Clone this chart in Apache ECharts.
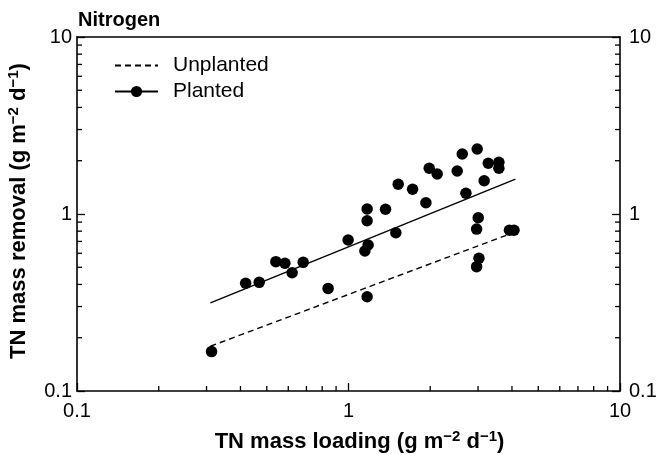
<!DOCTYPE html>
<html>
<head>
<meta charset="utf-8">
<script src="https://cdn.jsdelivr.net/npm/echarts@6/dist/echarts.min.js"></script>
<style>
  html, body { margin: 0; padding: 0; background: #fff; }
  #chart { width: 658px; height: 454px; }
</style>
</head>
<body>
<div id="chart"></div>
<script>
// TN mass loading (x) and TN mass removal (y), g m-2 d-1
const loading = [
  0.313, 0.418, 0.469, 0.540, 0.583, 0.620, 0.681, 0.841, 0.997,
  1.171, 1.171, 1.181, 1.149, 1.171, 1.369, 1.494, 1.524, 1.722,
  1.928, 1.983, 2.122, 2.514, 2.624, 2.707, 2.979, 3.160, 3.272,
  3.580, 3.580, 3.005, 2.964, 3.023, 2.964, 3.915, 4.070
];
const removal = [
  0.167, 0.406, 0.411, 0.538, 0.527, 0.466, 0.533, 0.380, 0.713,
  1.067, 0.916, 0.668, 0.618, 0.341, 1.063, 0.783, 1.472, 1.379,
  1.158, 1.812, 1.683, 1.750, 2.183, 1.309, 2.330, 1.542, 1.934,
  1.959, 1.812, 0.953, 0.822, 0.562, 0.504, 0.810, 0.810
];

// Fitted power-law lines, end points [loading, removal]
const plantedFitX = [0.31, 4.12];
const plantedFitY = [0.315, 1.575];
const unplantedFitX = [0.31, 4.05];
const unplantedFitY = [0.179, 0.785];

// Axis range and log minor tick positions
const axisMin = 0.1;
const axisMax = 10;
const minorTicks = [0.2, 0.3, 0.4, 0.5, 0.6, 0.7, 0.8, 0.9, 2, 3, 4, 5, 6, 7, 8, 9];

const FONT = 'Liberation Sans, Arial, Helvetica, sans-serif';
const INK = '#000';
const CLEAR = 'rgba(0,0,0,0)';

const points = loading.map((x, i) => [x, removal[i]]);
const zip = (xs, ys) => xs.map((x, i) => [x, ys[i]]);

// Minor ticks: [x, y, dirX, dirY] — drawn inward from the bottom, left and right axes
const minorTickData = [];
minorTicks.forEach(v => {
  minorTickData.push([v, axisMin, 0, -1]);
  minorTickData.push([axisMin, v, 1, 0]);
  minorTickData.push([axisMax, v, -1, 0]);
});

const fmt = v => String(+(+v).toPrecision(6));

const nameRich = {
  sup: { fontSize: 15, fontWeight: 'bold', fontFamily: FONT, color: INK, verticalAlign: 'top', lineHeight: 15 }
};
const nameStyle = { fontSize: 22, fontWeight: 'bold', fontFamily: FONT, color: INK, lineHeight: 26, rich: nameRich };

const baseAxis = {
  type: 'log',
  logBase: 10,
  min: axisMin,
  max: axisMax,
  interval: 1,
  splitLine: { show: false },
  minorTick: { show: false },
  axisLine: { show: true, onZero: false, lineStyle: { color: INK, width: 1.6 } },
  axisTick: { show: true, inside: true, length: 8, lineStyle: { color: INK, width: 1.3 } },
  axisLabel: { show: true, color: INK, fontSize: 20, fontFamily: FONT, formatter: fmt }
};

const chart = echarts.init(document.getElementById('chart'), null, { renderer: 'canvas' });

chart.setOption({
  animation: false,
  backgroundColor: '#fff',
  title: {
    text: 'Nitrogen',
    left: 78,
    top: 10,
    padding: 0,
    textStyle: { fontSize: 20, fontWeight: 'bold', fontFamily: FONT, color: INK }
  },
  legend: {
    orient: 'vertical',
    left: 114,
    top: 55,
    padding: 0,
    itemWidth: 43,
    itemHeight: 14,
    itemGap: 5,
    data: [
      { name: 'Unplanted', itemStyle: { color: CLEAR, borderColor: CLEAR, borderWidth: 0 } },
      { name: 'Planted' }
    ],
    textStyle: { fontSize: 21, fontFamily: FONT, color: INK, padding: [0, 0, 0, 10] },
    selectedMode: false
  },
  grid: { left: 77, right: 38, top: 37, bottom: 63, containLabel: false, outerBoundsMode: 'none' },
  xAxis: [
    Object.assign({}, baseAxis, {
      position: 'bottom',
      axisLabel: Object.assign({}, baseAxis.axisLabel, { margin: 10 }),
      name: 'TN mass loading (g m{sup|−2} d{sup|−1})',
      nameLocation: 'middle',
      nameGap: 38,
      nameTextStyle: Object.assign({}, nameStyle, { padding: [0, 0, 0, 22] })
    }),
    Object.assign({}, baseAxis, {
      position: 'top',
      axisTick: { show: false },
      axisLabel: { show: false }
    })
  ],
  yAxis: [
    Object.assign({}, baseAxis, {
      position: 'left',
      axisLabel: Object.assign({}, baseAxis.axisLabel, { margin: 5 }),
      name: 'TN mass removal (g m{sup|−2} d{sup|−1})',
      nameLocation: 'middle',
      nameGap: 45,
      nameTextStyle: Object.assign({}, nameStyle, { padding: [0, 0, 0, 6] })
    }),
    Object.assign({}, baseAxis, {
      position: 'right',
      axisLabel: Object.assign({}, baseAxis.axisLabel, { margin: 9 })
    })
  ],
  series: [
    {
      name: 'Unplanted',
      type: 'line',
      data: zip(unplantedFitX, unplantedFitY),
      symbol: 'none',
      lineStyle: { color: INK, width: 1.4, type: [6, 4] },
      itemStyle: { color: INK },
      silent: true,
      z: 2
    },
    {
      name: 'Planted',
      type: 'line',
      data: zip(plantedFitX, plantedFitY),
      symbol: 'circle',
      symbolSize: 11,
      showSymbol: false,
      lineStyle: { color: INK, width: 1.4 },
      itemStyle: { color: INK },
      silent: true,
      z: 2
    },
    {
      name: 'observed',
      type: 'scatter',
      data: points,
      symbol: 'circle',
      symbolSize: 11.5,
      itemStyle: { color: INK, opacity: 1 },
      z: 3
    },
    {
      name: 'minor ticks',
      type: 'custom',
      clip: false,
      silent: true,
      encode: { x: 0, y: 1 },
      data: minorTickData,
      renderItem: function (params, api) {
        const p = api.coord([api.value(0), api.value(1)]);
        const dx = api.value(2), dy = api.value(3);
        return {
          type: 'line',
          shape: { x1: p[0], y1: p[1], x2: p[0] + dx * 5, y2: p[1] + dy * 5 },
          style: { stroke: INK, lineWidth: 1.3 }
        };
      },
      z: 4
    }
  ]
});
</script>
</body>
</html>
